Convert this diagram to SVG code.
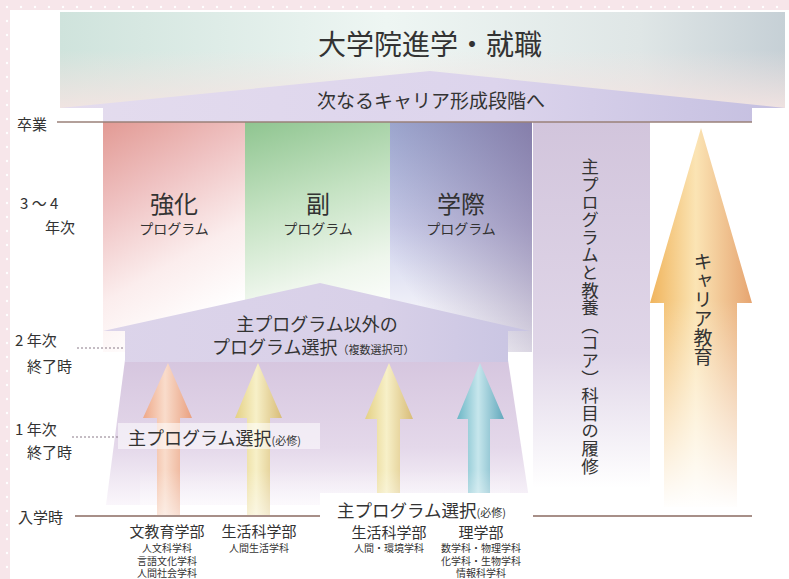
<svg xmlns="http://www.w3.org/2000/svg" width="789" height="579" viewBox="0 0 789 579">
<defs>
<style>
text{font-family:"Noto Sans CJK JP","Noto Sans",sans-serif;fill:#333;}
.c{text-anchor:middle;}
.lbl{font-size:15px;}
.sub{font-size:10px;}
.v{writing-mode:vertical-rl;text-anchor:start;}
</style>
<pattern id="dots" width="14" height="14" patternUnits="userSpaceOnUse">
<rect width="14" height="14" fill="#f7e6ea"/>
<circle cx="7" cy="7" r="1.2" fill="#fff"/>
</pattern>
<linearGradient id="topbox" x1="0" y1="0" x2="1" y2="0">
<stop offset="0" stop-color="#cfe3dc"/>
<stop offset="0.45" stop-color="#eef6f3"/>
<stop offset="0.8" stop-color="#dfe6e6"/>
<stop offset="1" stop-color="#c6d0d6"/>
</linearGradient>
<linearGradient id="topboxv" x1="0" y1="0" x2="0" y2="1">
<stop offset="0.4" stop-color="#f4e4e2" stop-opacity="0"/>
<stop offset="1" stop-color="#f4e4e2" stop-opacity="0.9"/>
</linearGradient>
<linearGradient id="roof" x1="0" y1="0" x2="1" y2="0">
<stop offset="0" stop-color="#e4dcee"/>
<stop offset="0.6" stop-color="#dcd4ec"/>
<stop offset="1" stop-color="#c4bfe0"/>
</linearGradient>
<linearGradient id="pink" x1="0" y1="0" x2="0.35" y2="1">
<stop offset="0" stop-color="#e29a94"/>
<stop offset="0.35" stop-color="#efc2c2"/>
<stop offset="0.7" stop-color="#fbeded"/>
<stop offset="1" stop-color="#ffffff"/>
</linearGradient>
<linearGradient id="green" x1="0" y1="0" x2="0.2" y2="1">
<stop offset="0" stop-color="#8fc590"/>
<stop offset="0.4" stop-color="#c4e2c2"/>
<stop offset="0.75" stop-color="#eef6ec"/>
<stop offset="1" stop-color="#ffffff"/>
</linearGradient>
<linearGradient id="blue" x1="0" y1="0" x2="0" y2="1">
<stop offset="0" stop-color="#a9bce2"/>
<stop offset="0.45" stop-color="#ccd0ec"/>
<stop offset="0.8" stop-color="#f0f0f8"/>
<stop offset="1" stop-color="#ffffff"/>
</linearGradient>
<linearGradient id="blueov" x1="1" y1="0" x2="0.2" y2="0.8">
<stop offset="0" stop-color="#7a6a98" stop-opacity="0.75"/>
<stop offset="1" stop-color="#7a6a98" stop-opacity="0"/>
</linearGradient>
<linearGradient id="lav" x1="0" y1="0" x2="0" y2="1">
<stop offset="0" stop-color="#d2c5dc"/>
<stop offset="0.6" stop-color="#e0d6e8"/>
<stop offset="0.95" stop-color="#ffffff"/>
</linearGradient>
<linearGradient id="career" x1="0" y1="0" x2="1" y2="0">
<stop offset="0" stop-color="#f0b45c"/>
<stop offset="0.45" stop-color="#fbe4b4"/>
<stop offset="1" stop-color="#e6a470"/>
</linearGradient>
<linearGradient id="fade" x1="0" y1="0" x2="0" y2="1">
<stop offset="0" stop-color="#fff" stop-opacity="0"/>
<stop offset="1" stop-color="#fff" stop-opacity="1"/>
</linearGradient>
<linearGradient id="midroof" x1="0" y1="0" x2="1" y2="0">
<stop offset="0" stop-color="#dcd4ea"/>
<stop offset="0.65" stop-color="#d8d0e8"/>
<stop offset="1" stop-color="#c8c4e2"/>
</linearGradient>
<linearGradient id="trap" x1="0" y1="0" x2="0" y2="1">
<stop offset="0" stop-color="#d6c6df"/>
<stop offset="0.6" stop-color="#e4d8ea"/>
<stop offset="1" stop-color="#faf6fb"/>
</linearGradient>
<linearGradient id="peach" x1="0" y1="0" x2="1" y2="0">
<stop offset="0" stop-color="#eea888"/>
<stop offset="0.45" stop-color="#f9dccb"/>
<stop offset="1" stop-color="#e9a080"/>
</linearGradient>
<linearGradient id="yellow" x1="0" y1="0" x2="1" y2="0">
<stop offset="0" stop-color="#e4d084"/>
<stop offset="0.45" stop-color="#f7f0c8"/>
<stop offset="1" stop-color="#d8bc78"/>
</linearGradient>
<linearGradient id="cyan" x1="0" y1="0" x2="1" y2="0">
<stop offset="0" stop-color="#6cb6c6"/>
<stop offset="0.45" stop-color="#c6e6ec"/>
<stop offset="1" stop-color="#62a8bc"/>
</linearGradient>
</defs>

<!-- background -->
<rect x="0" y="0" width="789" height="579" fill="url(#dots)"/>
<rect x="10" y="10" width="779" height="569" fill="#ffffff"/>

<!-- top destination box -->
<g id="top-box">
<rect x="60" y="12" width="725" height="96" fill="url(#topbox)"/>
<rect x="60" y="12" width="725" height="96" fill="url(#topboxv)"/>
<text class="c" x="430" y="55" style="font-size:28px">大学院進学・就職</text>
</g>

<!-- columns -->
<g id="kyouka">
<rect x="103" y="122" width="142" height="230" fill="url(#pink)"/>
<text class="c" x="174" y="213" style="font-size:24px">強化</text>
<text class="c" x="174" y="234" style="font-size:14px">プログラム</text>
</g>
<g id="fuku">
<rect x="245" y="122" width="145" height="230" fill="url(#green)"/>
<text class="c" x="318" y="213" style="font-size:24px">副</text>
<text class="c" x="318" y="234" style="font-size:14px">プログラム</text>
</g>
<g id="gakusai">
<rect x="390" y="122" width="142" height="230" fill="url(#blue)"/>
<rect x="390" y="122" width="142" height="230" fill="url(#blueov)"/>
<text class="c" x="461" y="213" style="font-size:24px">学際</text>
<text class="c" x="461" y="234" style="font-size:14px">プログラム</text>
</g>
<g id="core">
<rect x="533" y="122" width="117" height="385" fill="url(#lav)"/>
<text class="v" x="590" y="158" style="font-size:17.6px">主プログラムと教養（コア）科目の履修</text>
</g>
<g id="career">
<path d="M701,128 L752,303 L737,303 L737,507 L664,507 L664,303 L650,303 Z" fill="url(#career)"/>
<rect x="650" y="300" width="105" height="210" fill="url(#fade)"/>
<text class="v" x="703" y="252" style="font-size:19px">キャリア教育</text>
</g>

<!-- next career stage pentagon -->
<g id="next-stage">
<path d="M60,108 L430,71 L785,108 L752,108 L752,122 L103,122 L103,108 Z" fill="url(#roof)"/>
<text class="c" x="431" y="108" style="font-size:19px">次なるキャリア形成段階へ</text>
</g>

<!-- lower region -->
<g id="first-years">
<path d="M125,360 L508,360 L530,505 L106,505 Z" fill="url(#trap)"/>
</g>

<g id="connectors">
<path d="M168,363 L192,418 L180,418 L180,515 L157,515 L157,418 L143,418 Z" fill="url(#peach)"/>
<path d="M258,363 L282,418 L270,418 L270,515 L247,515 L247,418 L235,418 Z" fill="url(#yellow)"/>
<path d="M389,363 L413,419 L400,419 L400,500 L377,500 L377,419 L365,419 Z" fill="url(#yellow)"/>
<path d="M480,363 L504,419 L490,419 L490,500 L468,500 L468,419 L457,419 Z" fill="url(#cyan)"/>
<rect x="140" y="470" width="370" height="46" fill="url(#fade)" opacity="0.5"/>
<line x1="57" y1="122" x2="752" y2="122" stroke="#9a8078" stroke-width="1.5"/>
<line x1="75" y1="516" x2="320" y2="516" stroke="#8a6a60" stroke-width="1.5"/>
<line x1="533" y1="516" x2="752" y2="516" stroke="#8a6a60" stroke-width="1.5"/>
<line x1="77" y1="348" x2="123" y2="348" stroke="#8a7a88" stroke-width="1" stroke-dasharray="2,2"/>
<line x1="72" y1="437" x2="118" y2="437" stroke="#8a7a88" stroke-width="1" stroke-dasharray="2,2"/>
</g>

<g id="other-programs">
<path d="M103,331 L320,283 L530,331 L508,331 L508,362 L125,362 L125,331 Z" fill="url(#midroof)"/>
<text class="c" x="317" y="331" style="font-size:18px">主プログラム以外の</text>
<text x="212" y="354" style="font-size:18px">プログラム選択<tspan style="font-size:11px">（複数選択可）</tspan></text>
</g>

<g id="main-select-1">
<rect x="118" y="423" width="202" height="26" fill="#ffffff" opacity="0.55"/>
<text x="128" y="445" style="font-size:18px">主プログラム選択<tspan style="font-size:11px">(必修)</tspan></text>
</g>

<g id="main-select-2">
<rect x="320" y="493" width="213" height="32" fill="#ffffff"/>
<text x="337" y="517" style="font-size:17.5px">主プログラム選択<tspan style="font-size:11px">(必修)</tspan></text>
</g>

<!-- left timeline labels -->
<g id="timeline">
<text x="17" y="130" style="font-size:15px">卒業</text>
<text x="20" y="209" style="font-size:15px">3 ～ 4</text>
<text x="45" y="233" style="font-size:15px">年次</text>
<text x="15" y="346" style="font-size:15px">2 年次</text>
<text x="27" y="372" style="font-size:15px">終了時</text>
<text x="15" y="435" style="font-size:15px">1 年次</text>
<text x="27" y="458" style="font-size:15px">終了時</text>
<text x="18" y="523" style="font-size:15px">入学時</text>
</g>

<!-- faculties -->
<g id="bunkyoiku">
<text class="c lbl" x="167" y="537">文教育学部</text>
<text class="c sub" x="167" y="552">人文科学科</text>
<text class="c sub" x="167" y="564.5">言語文化学科</text>
<text class="c sub" x="167" y="577">人間社会学科</text>
</g>
<g id="seikatsu-1">
<text class="c lbl" x="259" y="537">生活科学部</text>
<text class="c sub" x="259" y="552">人間生活学科</text>
</g>
<g id="seikatsu-2">
<text class="c lbl" x="389" y="538">生活科学部</text>
<text class="c sub" x="389" y="552">人間・環境学科</text>
</g>
<g id="rigaku">
<text class="c lbl" x="481" y="538">理学部</text>
<text class="c sub" x="481" y="552">数学科・物理学科</text>
<text class="c sub" x="481" y="564.5">化学科・生物学科</text>
<text class="c sub" x="481" y="577">情報科学科</text>
</g>
</svg>
